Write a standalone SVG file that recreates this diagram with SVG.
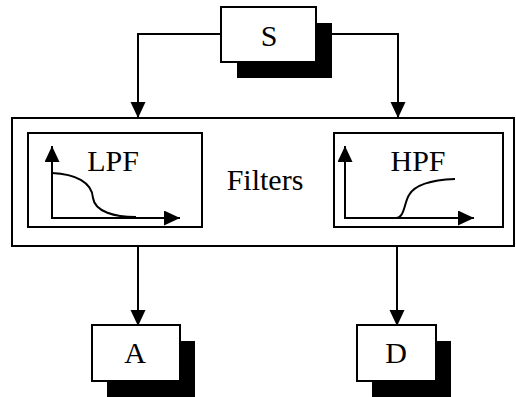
<svg xmlns="http://www.w3.org/2000/svg" width="516" height="397" viewBox="0 0 516 397">
<style>
.box{fill:#fff;stroke:#000;stroke-width:2}
.shadow{fill:#000}
.ln{fill:none;stroke:#000;stroke-width:2}
.t{font-family:"Liberation Serif","Times New Roman",serif;font-size:30px;fill:#000;text-anchor:middle}
</style>
<defs>
<marker id="arr" markerUnits="userSpaceOnUse" markerWidth="17" markerHeight="16" refX="16" refY="7.5" orient="auto">
<path d="M0,0 L16,7.5 L0,15 Z" fill="#000"/>
</marker>
</defs>
<rect width="516" height="397" fill="#fff"/>
<g id="connectors">
<path class="ln" d="M221,34 H138 V118" marker-end="url(#arr)"/>
<path class="ln" d="M316,34 H398 V118" marker-end="url(#arr)"/>
<path class="ln" d="M138,246 V326" marker-end="url(#arr)"/>
<path class="ln" d="M397,246 V326" marker-end="url(#arr)"/>
</g>
<g id="S">
<rect class="shadow" x="237" y="23" width="95" height="55"/>
<rect class="box" x="221" y="7" width="95" height="55"/>
<text class="t" x="269" y="46">S</text>
</g>
<g id="Filters">
<rect class="box" x="12" y="118" width="502" height="128"/>
<text class="t" x="265" y="190">Filters</text>
</g>
<g id="LPF">
<rect class="box" x="28" y="133" width="174" height="94"/>
<path class="ln" d="M52,218 V146" marker-end="url(#arr)"/>
<path class="ln" d="M51,218 H180" marker-end="url(#arr)"/>
<path class="ln" d="M52,173 C75,174 92,182 93,198 C95,212 115,217 136,217"/>
<text class="t" x="113" y="171">LPF</text>
</g>
<g id="HPF">
<rect class="box" x="334" y="133" width="169" height="94"/>
<path class="ln" d="M345,218 V146" marker-end="url(#arr)"/>
<path class="ln" d="M344,218 H474" marker-end="url(#arr)"/>
<path class="ln" d="M396,218 C405,217 404,203 409,195 C414,186 430,180 455,179"/>
<text class="t" x="418" y="171">HPF</text>
</g>
<g id="A">
<rect class="shadow" x="107" y="341" width="88" height="56"/>
<rect class="box" x="92" y="325" width="88" height="56"/>
<text class="t" x="135" y="363">A</text>
</g>
<g id="D">
<rect class="shadow" x="372" y="341" width="79" height="56"/>
<rect class="box" x="357" y="325" width="79" height="56"/>
<text class="t" x="396" y="363">D</text>
</g>
</svg>
